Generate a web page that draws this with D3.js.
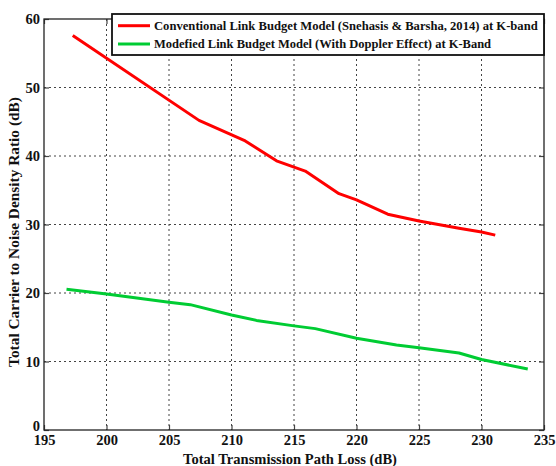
<!DOCTYPE html>
<html>
<head>
<meta charset="utf-8">
<script src="https://cdn.jsdelivr.net/npm/d3@7"></script>
<style>
  html, body { margin: 0; padding: 0; background: #fff; }
  svg { display: block; }
  text { font-family: "Liberation Serif", "DejaVu Serif", serif; font-weight: bold; fill: #111; }
</style>
</head>
<body>
<svg id="chart" width="556" height="466"></svg>
<script>
// Path loss (dB) and C/N0 (dB) for each model
const conventionalLoss = [197.3, 207.4, 211.1, 213.6, 215.9, 218.6, 220.0, 222.5, 225.0, 228.2, 230.0, 231.1];
const conventionalCN0  = [57.6, 45.2, 42.2, 39.3, 37.8, 34.5, 33.6, 31.5, 30.5, 29.45, 28.9, 28.45];

const modifiedLoss = [196.8, 200.0, 205.0, 206.7, 210.0, 212.0, 215.0, 216.7, 220.0, 223.2, 225.0, 228.2, 230.0, 233.7];
const modifiedCN0  = [20.55, 19.85, 18.65, 18.3, 16.8, 16.0, 15.2, 14.8, 13.4, 12.4, 12.0, 11.25, 10.3, 8.9];

const xTicks = [195, 200, 205, 210, 215, 220, 225, 230, 235];
const yTicks = [0, 10, 20, 30, 40, 50, 60];

const seriesNames = [
  "Conventional Link Budget Model (Snehasis & Barsha, 2014) at K-band",
  "Modefied Link Budget Model (With Doppler Effect) at K-Band"
];
const seriesColors = ["#ff0000", "#00cc33"];

const xTitle = "Total Transmission Path Loss (dB)";
const yTitle = "Total Carrier to Noise Density Ratio (dB)";

const svg = d3.select("#chart");
const plot = { left: 44, right: 544, top: 19, bottom: 430 };

const x = d3.scaleLinear().domain([195, 235]).range([plot.left, plot.right]);
const y = d3.scaleLinear().domain([0, 60]).range([plot.bottom, plot.top]);

// fit a text element to a given width by adjusting its font size
function fitWidth(sel, width, base) {
  sel.style("font-size", base + "px");
  const w = sel.node().getComputedTextLength();
  sel.style("font-size", (base * width / w).toFixed(2) + "px");
}

// dotted grid
const grid = svg.append("g");
grid.selectAll("line.v").data(xTicks.slice(1, -1)).join("line")
  .attr("x1", d => x(d)).attr("x2", d => x(d))
  .attr("y1", plot.top).attr("y2", plot.bottom)
  .attr("stroke", "#444").attr("stroke-width", 1).attr("stroke-dasharray", "2,3");
grid.selectAll("line.h").data(yTicks.slice(1, -1)).join("line")
  .attr("x1", plot.left).attr("x2", plot.right)
  .attr("y1", d => y(d)).attr("y2", d => y(d))
  .attr("stroke", "#444").attr("stroke-width", 1).attr("stroke-dasharray", "2,3");

// axes with inward ticks, mirrored on top and right
const tickLen = 5;
svg.append("g").attr("transform", `translate(0,${plot.bottom})`)
  .call(d3.axisBottom(x).tickValues(xTicks).tickSize(-tickLen).tickPadding(5).tickSizeOuter(0))
  .call(g => g.select(".domain").remove());
svg.append("g").attr("transform", `translate(0,${plot.top})`)
  .call(d3.axisTop(x).tickValues(xTicks).tickSize(-tickLen).tickFormat("").tickSizeOuter(0))
  .call(g => g.select(".domain").remove());
svg.append("g").attr("transform", `translate(${plot.left},0)`)
  .call(d3.axisLeft(y).tickValues(yTicks).tickSize(-tickLen).tickPadding(4).tickSizeOuter(0))
  .call(g => g.select(".domain").remove())
  .call(g => g.selectAll(".tick").filter(d => d === 0).select("text").attr("dy", "0.0em"));
svg.append("g").attr("transform", `translate(${plot.right},0)`)
  .call(d3.axisRight(y).tickValues(yTicks).tickSize(-tickLen).tickFormat("").tickSizeOuter(0))
  .call(g => g.select(".domain").remove());

svg.selectAll(".tick line").attr("stroke", "#444").attr("stroke-width", 1.2);
svg.selectAll(".tick text")
  .style("font-family", '"Liberation Serif", "DejaVu Serif", serif')
  .style("font-weight", "bold").style("font-size", "14.5px").attr("fill", "#111");

// axes frame
svg.append("rect")
  .attr("x", plot.left).attr("y", plot.top)
  .attr("width", plot.right - plot.left).attr("height", plot.bottom - plot.top)
  .attr("fill", "none").attr("stroke", "#222").attr("stroke-width", 1.3);

// data lines
const line = d3.line().x(d => x(d[0])).y(d => y(d[1]));
const series = [
  d3.zip(conventionalLoss, conventionalCN0),
  d3.zip(modifiedLoss, modifiedCN0)
];
svg.append("g").selectAll("path").data(series).join("path")
  .attr("d", line)
  .attr("fill", "none")
  .attr("stroke", (d, i) => seriesColors[i])
  .attr("stroke-width", 3)
  .attr("stroke-linejoin", "round");

// legend
const lg = svg.append("g");
lg.append("rect")
  .attr("x", 112).attr("y", 14).attr("width", plot.right - 112).attr("height", 41)
  .attr("fill", "#fff").attr("stroke", "#111").attr("stroke-width", 1.8);
const rows = [25.7, 44];
seriesNames.forEach((name, i) => {
  lg.append("line")
    .attr("x1", 118).attr("x2", 150).attr("y1", rows[i]).attr("y2", rows[i])
    .attr("stroke", seriesColors[i]).attr("stroke-width", 3);
  const t = lg.append("text")
    .attr("x", 154).attr("y", rows[i]).attr("dy", "0.35em")
    .text(name);
  fitWidth(t, i === 0 ? 384 : 337, 13);
});

// axis titles
const xt = svg.append("text")
  .attr("x", 290).attr("y", 463.5)
  .attr("text-anchor", "middle").text(xTitle);
fitWidth(xt, 214, 13);

const yt = svg.append("text")
  .attr("transform", `translate(19,232) rotate(-90)`)
  .attr("text-anchor", "middle").text(yTitle);
fitWidth(yt, 270, 13);
</script>
</body>
</html>
